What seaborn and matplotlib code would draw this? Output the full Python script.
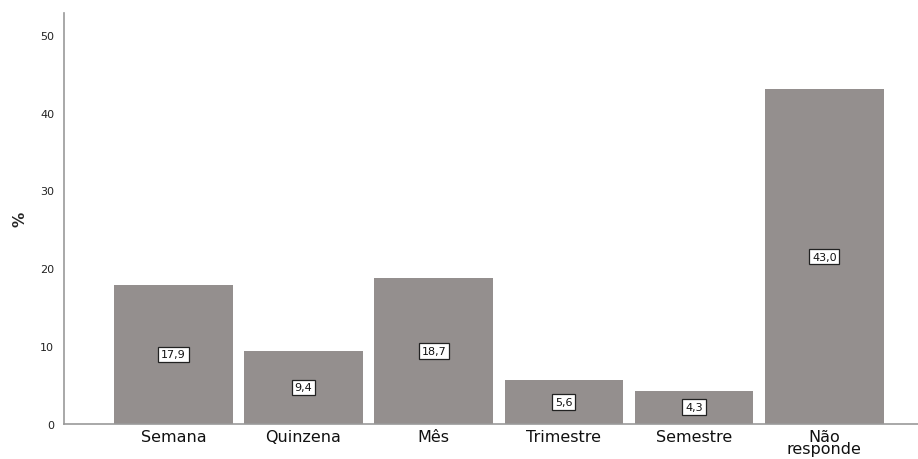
import matplotlib
matplotlib.use("Agg")
import matplotlib.pyplot as plt
import seaborn as sns
import pandas as pd

categories = ["Semana", "Quinzena", "Mês", "Trimestre", "Semestre", "Não\nresponde"]
values = [17.9, 9.4, 18.7, 5.6, 4.3, 43.0]
value_labels = ["17,9", "9,4", "18,7", "5,6", "4,3", "43,0"]
yticks = [0, 10, 20, 30, 40, 50]

sns.set_style("white")
plt.rcParams['font.family'] = ['DejaVu Sans']

df = pd.DataFrame({"cat": categories, "val": values})

fig = plt.figure(figsize=(9.18, 4.6), dpi=100)
ax = fig.add_axes([64/918, 35/460, (918-64)/918, 411/460])

sns.barplot(data=df, x="cat", y="val", color="#948f8e", saturation=1,
            width=0.91, ax=ax, edgecolor="none")

ax.set_ylim(0, 52.8)
ax.set_xlim(-0.84, 5.72)
ax.set_yticks(yticks)
ax.set_yticklabels([str(t) for t in yticks], fontsize=8, color="#222222")
ax.tick_params(axis="y", length=0, pad=7)
ax.tick_params(axis="x", length=0, pad=3.5, labelsize=11.5, labelcolor="#111111")
for lab in ax.get_xticklabels():
    lab.set_linespacing(0.78)

ax.set_xlabel("")
ax.set_ylabel("%", fontsize=11, fontweight="bold", labelpad=9)

for s in ["top", "right"]:
    ax.spines[s].set_visible(False)
for s in ["left", "bottom"]:
    ax.spines[s].set_color("#999999")
    ax.spines[s].set_linewidth(1.2)

for i, (v, lbl) in enumerate(zip(values, value_labels)):
    ax.text(i, v / 2, lbl, ha="center", va="center", fontsize=8, color="#111111",
            bbox=dict(boxstyle="square,pad=0.25", facecolor="white",
                      edgecolor="#222222", linewidth=0.9))

fig.savefig("out.png", dpi=100)
